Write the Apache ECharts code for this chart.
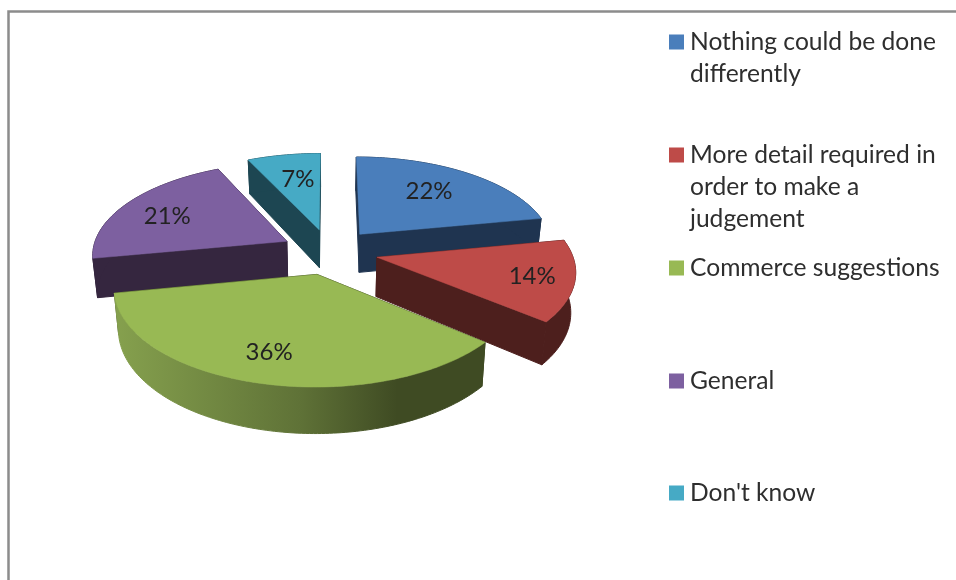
<!DOCTYPE html>
<html>
<head>
<meta charset="utf-8">
<style>html,body{margin:0;padding:0;background:#fff}#chart{width:956px;height:580px}</style>
<script src="https://cdn.jsdelivr.net/npm/echarts@6/dist/echarts.min.js"></script>
</head>
<body>
<div id="chart"></div>
<script>
// Survey answers, clockwise from twelve o'clock
const categories = ['Nothing could be done differently', 'More detail required in order to make a judgement', 'Commerce suggestions', 'General', "Don't know"];
const legendLines = [['Nothing could be done', 'differently'], ['More detail required in', 'order to make a', 'judgement'], ['Commerce suggestions'], ['General'], ["Don't know"]];
const shares = [22, 14, 36, 21, 7];
const topColors = ['#4a7ebb', '#be4b48', '#98b954', '#7d60a0', '#46aac5'];
const sideColors = ['#1f3450', '#4d1f1d', '#3f4b23', '#35263f', '#1d4652'];
const labelRadii = [0.66, 0.79, 0.75, 0.72, 0.65];
const labelTurns = [-2.3, 0, 1.8, -2.6, 1.4];
const legendTops = [26, 139, 252, 365, 477];
const paintOrder = [4, 0, 3, 1, 2];

// Perspective camera for the exploded disc
const view = { cx: 329.5, cy: 251.5, scaleX: 194.5, scaleY: 91.5, persp: 0.13, explode: 0.25, depth: 39, shrink: 0.98 };
const font = 'Lato, "Open Sans", sans-serif';
const lineH = 32;

function project(X, Z) {
  const w = 1 - view.persp * Z;
  return [view.cx + view.scaleX * X / w, view.cy + view.scaleY * Z / w, w];
}
function lower(X, Z) {
  const p = project(X, Z);
  return [view.cx + (p[0] - view.cx) * view.shrink, p[1] + view.depth / p[2]];
}
function spanOf(i) {
  const total = shares.reduce((a, b) => a + b, 0);
  const before = shares.slice(0, i).reduce((a, b) => a + b, 0);
  return [before / total * Math.PI * 2, (before + shares[i]) / total * Math.PI * 2];
}

function drawSlice(i) {
  const [a0, a1] = spanOf(i);
  const mid = (a0 + a1) / 2;
  const ox = view.explode * Math.sin(mid), oz = -view.explode * Math.cos(mid);
  const rim = [];
  const steps = Math.ceil((a1 - a0) / (Math.PI / 180));
  for (let s = 0; s <= steps; s++) {
    const t = a0 + (a1 - a0) * s / steps;
    rim.push([ox + Math.sin(t), oz - Math.cos(t)]);
  }
  const first = rim[0], last = rim[rim.length - 1];
  const wall = (pts, fill) => ({
    type: 'polygon',
    shape: { points: pts.map(p => project(p[0], p[1]).slice(0, 2)).concat(pts.slice().reverse().map(p => lower(p[0], p[1]))) },
    style: { fill: fill, stroke: fill, lineWidth: 1 }
  });
  // The front wall of the largest slice is lit from the left
  const rimFill = i === 2
    ? new echarts.graphic.LinearGradient(113, 0, 487, 0, [
        { offset: 0, color: '#86a14e' },
        { offset: 0.5, color: '#5f7237' },
        { offset: 0.76, color: '#3f4b23' },
        { offset: 1, color: '#3f4b23' }
      ], true)
    : sideColors[i];
  const labelAngle = mid + labelTurns[i] * Math.PI / 180;
  const lx = ox + labelRadii[i] * Math.sin(labelAngle), lz = oz - labelRadii[i] * Math.cos(labelAngle);
  const lp = project(lx, lz);
  return {
    type: 'group',
    children: [
      wall([[ox, oz], first], sideColors[i]),
      wall([[ox, oz], last], sideColors[i]),
      wall(rim, rimFill),
      {
        type: 'polygon',
        shape: { points: [[ox, oz]].concat(rim).map(p => project(p[0], p[1]).slice(0, 2)) },
        style: { fill: topColors[i], stroke: topColors[i], lineWidth: 0.5 }
      },
      {
        type: 'text',
        style: { text: shares[i] + '%', x: lp[0], y: lp[1], align: 'center', verticalAlign: 'middle', fontFamily: font, fontSize: 24, fill: '#222' }
      }
    ]
  };
}

// Square sits on the first line of a wrapped entry
function legendIcon(n) {
  const h = n * lineH, top = (lineH - 15) / 2;
  return 'path://M0 0L0 0.01M0 ' + top + 'H15V' + (top + 15) + 'H0ZM16 ' + h + 'L16 ' + (h - 0.01);
}

const chart = echarts.init(document.getElementById('chart'));
chart.setOption({
  animation: false,
  backgroundColor: '#fff',
  graphic: [{
    type: 'polyline', silent: true,
    shape: { points: [[8.5, 580], [8.5, 11.5], [956, 11.5]] },
    style: { stroke: '#8c8c8c', lineWidth: 2.5, fill: null }
  }],
  legend: categories.map((name, i) => ({
    left: 669, top: legendTops[i], orient: 'vertical', selectedMode: false,
    itemWidth: 16, itemHeight: legendLines[i].length * lineH, padding: 0,
    data: [{ name: name, icon: legendIcon(legendLines[i].length) }],
    formatter: () => legendLines[i].join('\n'),
    textStyle: { fontFamily: font, fontSize: 24.6, lineHeight: lineH, color: '#2e2e2e' }
  })),
  series: paintOrder.map((i, rank) => ({
    type: 'custom',
    name: categories[i],
    z: rank + 2,
    coordinateSystem: 'none',
    silent: true,
    itemStyle: { color: topColors[i] },
    data: [shares[i]],
    renderItem: () => drawSlice(i)
  }))
});
</script>
</body>
</html>
